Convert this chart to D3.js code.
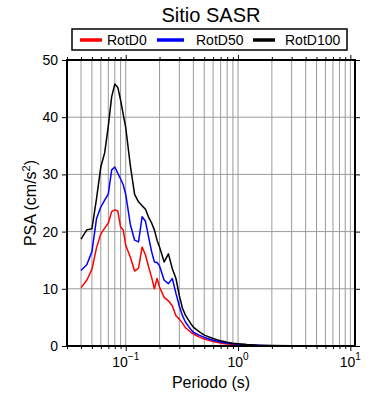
<!DOCTYPE html>
<html>
<head>
<meta charset="utf-8">
<script src="https://cdn.jsdelivr.net/npm/d3@7"></script>
<style>
  body { margin: 0; background: #fff; }
  svg { font-family: "Liberation Sans", Arial, sans-serif; }
</style>
</head>
<body>
<div id="chart"></div>
<script>
// periods (s)
const periods = [0.04, 0.045, 0.05, 0.055, 0.06, 0.065, 0.07, 0.075, 0.08, 0.085, 0.09, 0.095,
  0.1, 0.11, 0.12, 0.13, 0.14, 0.15, 0.16, 0.17, 0.18, 0.19, 0.2, 0.22, 0.24, 0.26, 0.28,
  0.3, 0.32, 0.34, 0.36, 0.38, 0.4, 0.45, 0.5, 0.6, 0.7, 0.8, 0.9, 1.0, 1.2, 1.5, 2, 3, 4, 5, 7.5, 10];

const rotD0 = [10.2, 11.5, 13.4, 17.2, 19.6, 20.6, 21.5, 23.5, 23.8, 23.6, 20.8, 20.3,
  17.6, 15.5, 13.1, 13.6, 17.3, 15.9, 13.8, 12.0, 10.0, 11.8, 10.3, 8.5, 7.9, 7.0, 5.3,
  4.7, 4.0, 3.2, 2.8, 2.4, 2.1, 1.6, 1.2, 0.8, 0.5, 0.35, 0.3, 0.2, 0.15, 0.1, 0.05, 0.03, 0.02, 0.015, 0.01, 0.01];

const rotD50 = [13.2, 14.2, 16.5, 22.3, 24.3, 25.5, 26.6, 30.8, 31.3, 30.2, 29.2, 28.2,
  26.5, 21.2, 18.5, 18.2, 22.6, 21.8, 19.0, 16.5, 14.7, 14.6, 14.0, 11.5, 10.9, 11.8, 9.2,
  7.0, 5.3, 4.2, 3.5, 2.9, 2.4, 1.9, 1.5, 1.0, 0.7, 0.5, 0.4, 0.3, 0.2, 0.12, 0.06, 0.03, 0.02, 0.015, 0.01, 0.01];

const rotD100 = [18.7, 20.3, 20.5, 25.8, 31.3, 33.8, 38.5, 43.6, 45.8, 45.2, 43.0, 40.5,
  38.2, 31.5, 26.5, 25.2, 24.5, 23.9, 22.5, 21.5, 20.3, 18.5, 17.3, 14.7, 16.1, 13.5, 11.8,
  8.8, 6.6, 5.4, 4.6, 3.9, 3.3, 2.5, 1.9, 1.3, 0.9, 0.65, 0.5, 0.4, 0.25, 0.15, 0.08, 0.04, 0.03, 0.02, 0.01, 0.01];

const seriesNames = ["RotD0", "RotD50", "RotD100"];
const seriesColors = ["#ff0000", "#0000ff", "#000000"];
const yTicks = [0, 10, 20, 30, 40, 50];
const xMajor = [0.1, 1, 10];
const xMajorExp = ["\u22121", "0", "1"];

const width = 390, height = 400;
const margin = {top: 60, right: 35, bottom: 54, left: 67};

const svg = d3.select('#chart').append('svg')
  .attr('width', width)
  .attr('height', height);

const x = d3.scaleLog()
  .domain([0.03, 11])
  .range([margin.left, width - margin.right]);

const y = d3.scaleLinear()
  .domain([0, 50])
  .range([height - margin.bottom, margin.top]);

// minor ticks 0.03 .. 10
let xMinor = [];
[0.01, 0.1, 1].forEach(dec => {
  for (let k = 1; k <= 9; k++) {
    let v = +(dec * k).toPrecision(3);
    if (v >= 0.03) xMinor.push(v);
  }
});
xMinor.push(10);

// grid
svg.append('g')
  .selectAll('line')
  .data(xMinor)
  .enter().append('line')
  .attr('x1', d => x(d)).attr('x2', d => x(d))
  .attr('y1', y(0)).attr('y2', y(50))
  .attr('stroke', '#9a9a9a')
  .attr('stroke-width', 1);

svg.append('g')
  .selectAll('line')
  .data(yTicks.slice(1, -1))
  .enter().append('line')
  .attr('x1', x.range()[0]).attr('x2', x.range()[1])
  .attr('y1', d => y(d)).attr('y2', d => y(d))
  .attr('stroke', '#9a9a9a')
  .attr('stroke-width', 1);

// curves
const line = d3.line()
  .x((d, i) => x(periods[i]))
  .y(d => y(d));

[rotD0, rotD50, rotD100].forEach((s, i) => {
  svg.append('path')
    .datum(s)
    .attr('d', line)
    .attr('fill', 'none')
    .attr('stroke', seriesColors[i])
    .attr('stroke-width', 1.5)
    .attr('stroke-linejoin', 'round');
});

// axes
const bottomAxis = d3.axisBottom(x).tickValues(xMinor).tickSize(3).tickFormat('');
const topAxis = d3.axisTop(x).tickValues(xMinor).tickSize(3).tickFormat('');
const leftAxis = d3.axisLeft(y).tickValues(yTicks).tickSize(5).tickPadding(4);
const rightAxis = d3.axisRight(y).tickValues(yTicks).tickSize(5).tickFormat('');

function styleAxis(g) {
  g.select('.domain').remove();
  g.selectAll('.tick line').attr('stroke', '#000').attr('stroke-width', 1);
  g.selectAll('.tick text').attr('fill', '#000').attr('font-size', 14)
    .attr('font-family', '"Liberation Sans", Arial, sans-serif');
}

svg.append('g').attr('transform', `translate(0,${y(0)})`).call(bottomAxis).call(styleAxis)
  .selectAll('.tick line').attr('y2', d => xMajor.includes(d) ? 5 : 3);
svg.append('g').attr('transform', `translate(0,${y(50)})`).call(topAxis).call(styleAxis)
  .selectAll('.tick line').attr('y2', d => xMajor.includes(d) ? -5 : -3);
svg.append('g').attr('transform', `translate(${x.range()[0]},0)`).call(leftAxis).call(styleAxis);
svg.append('g').attr('transform', `translate(${x.range()[1]},0)`).call(rightAxis).call(styleAxis);

// x tick labels 10^n
const xl = svg.append('g').selectAll('text')
  .data(xMajor)
  .enter().append('text')
  .attr('x', d => x(d))
  .attr('y', y(0) + 21)
  .attr('text-anchor', 'middle')
  .attr('font-size', 14)
  .attr('fill', '#000');
xl.append('tspan').text('10');
xl.append('tspan').attr('dy', -7).attr('font-size', 10).text((d, i) => xMajorExp[i]);

// frame
svg.append('rect')
  .attr('x', x.range()[0]).attr('y', y(50))
  .attr('width', x.range()[1] - x.range()[0])
  .attr('height', y(0) - y(50))
  .attr('fill', 'none')
  .attr('stroke', '#000')
  .attr('stroke-width', 2);

// labels
svg.append('text')
  .attr('x', 211).attr('y', 22)
  .attr('text-anchor', 'middle')
  .attr('font-size', 20)
  .text('Sitio SASR');

svg.append('text')
  .attr('x', 211).attr('y', 388)
  .attr('text-anchor', 'middle')
  .attr('font-size', 16)
  .text('Periodo (s)');

const yl = svg.append('text')
  .attr('transform', `translate(36,${(y(0) + y(50)) / 2}) rotate(-90)`)
  .attr('text-anchor', 'middle')
  .attr('font-size', 16);
yl.append('tspan').text('PSA (cm/s');
yl.append('tspan').attr('dy', -6).attr('font-size', 11).text('2');
yl.append('tspan').attr('dy', 6).text(')');

// legend
const legendX = [80, 157, 253];
svg.append('rect')
  .attr('x', 72).attr('y', 29)
  .attr('width', 275).attr('height', 21)
  .attr('fill', '#fff')
  .attr('stroke', '#000')
  .attr('stroke-width', 1.5);

const lg = svg.append('g').selectAll('g')
  .data(seriesNames)
  .enter().append('g')
  .attr('transform', (d, i) => `translate(${legendX[i]},40)`);
lg.append('line')
  .attr('x1', 0).attr('x2', (d, i) => i == 1 ? 27 : 22)
  .attr('y1', 0).attr('y2', 0)
  .attr('stroke', (d, i) => seriesColors[i])
  .attr('stroke-width', 3.5);
lg.append('text')
  .attr('x', (d, i) => [27, 39, 32][i])
  .attr('y', 5)
  .attr('font-size', 14)
  .text(d => d);
</script>
</body>
</html>
